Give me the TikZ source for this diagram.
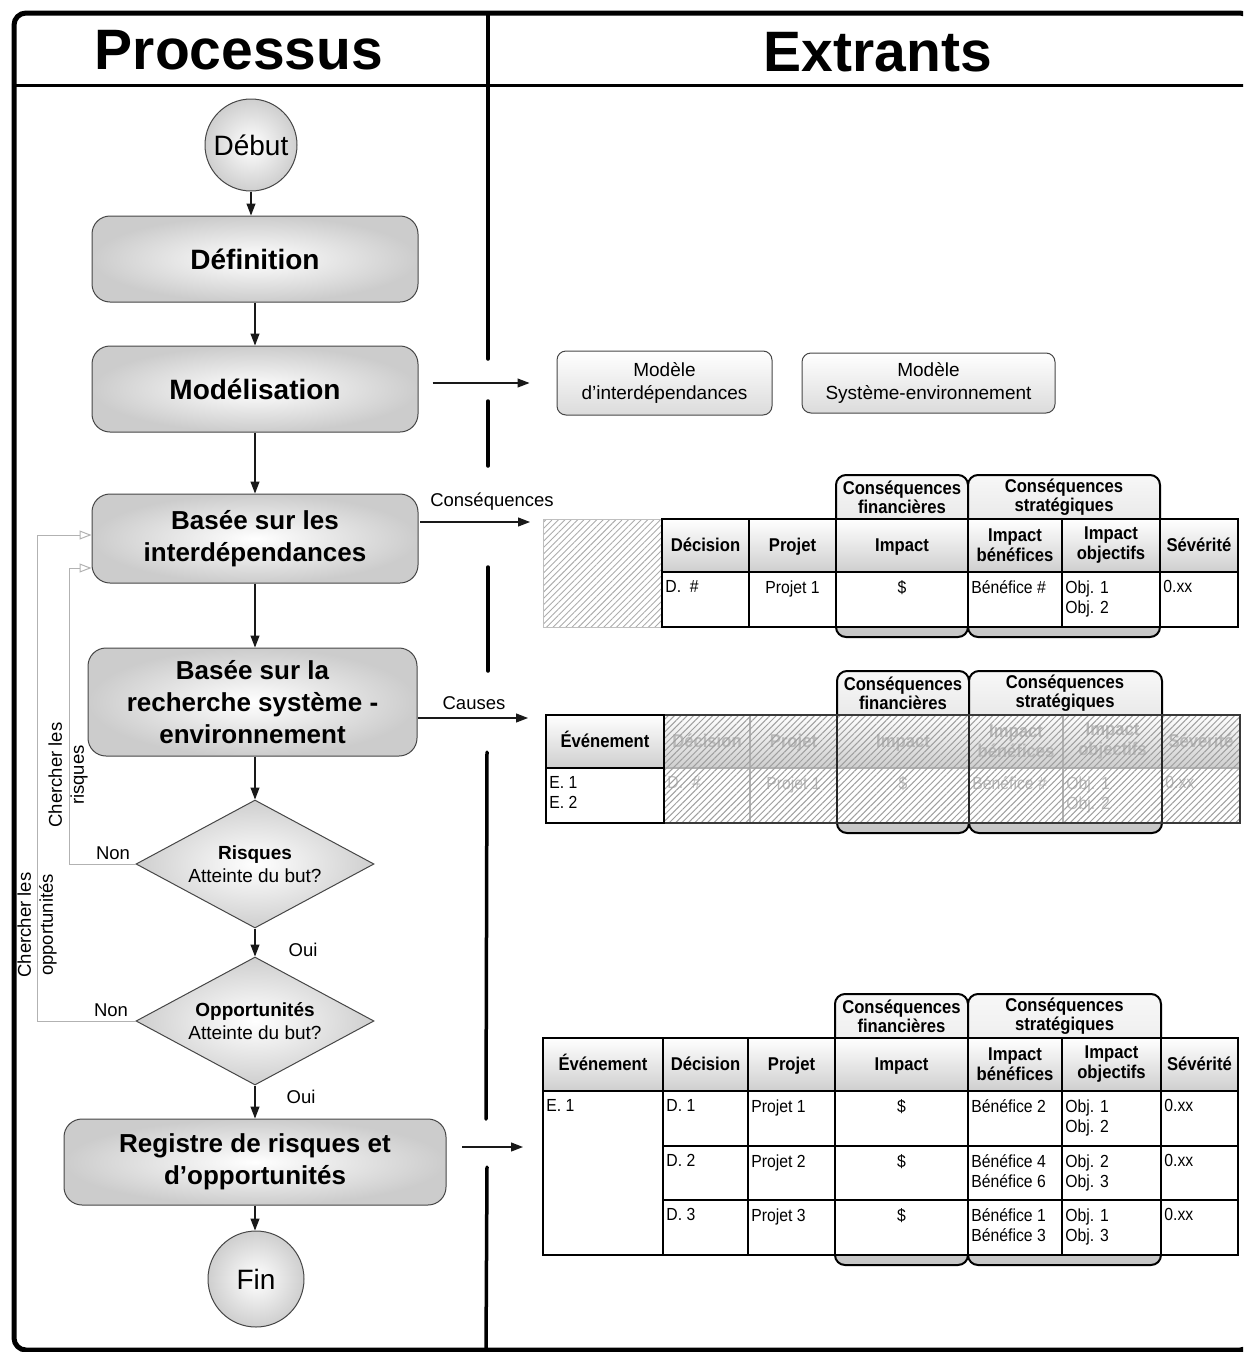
\documentclass[tikz,border=0pt]{standalone}
\usepackage{fontspec}
\setmainfont{Liberation Sans}
\newfontfamily\nfont[FakeStretch=0.9]{Liberation Sans}
\usetikzlibrary{arrows.meta,shapes.geometric,patterns.meta}
\newcommand\fTitle{\fontsize{57}{62}\selectfont\bfseries}
\newcommand\fBoxB{\fontsize{26}{32}\selectfont\bfseries}
\newcommand\fBoxC{\fontsize{28}{32}\selectfont\bfseries}
\newcommand\fCirc{\fontsize{28}{32}\selectfont}
\newcommand\fMid{\fontsize{19}{23}\selectfont}
\newcommand\fLab{\fontsize{18.5}{22}\selectfont}
\newcommand\fTH{\nfont\fontsize{18.5}{20}\selectfont\bfseries}
\newcommand\fTB{\nfont\fontsize{17.5}{20}\selectfont}
\newcommand\fTab{\nfont\fontsize{18.5}{19}\selectfont\bfseries}
\newcommand\HC[7][]{\node[hdr,#1,minimum width={#5-#3},minimum height={#6-#4}] (#2) at ({(#3+#5)/2},{(#4+#6)/2}) {#7};}
\newcommand\BC[6][]{\node[bdy,#1,minimum width={#5-#3},minimum height={#6-#4}] (#2) at ({(#3+#5)/2},{(#4+#6)/2}) {};}
\newcommand\TL[3][]{\node[tbl,#1] (#2-t) at ([xshift=4pt,yshift=-9pt]#2.north west) {#3};}
\newcommand\TC[3][]{\node[tbc,#1] (#2-t) at ([yshift=-9pt]#2.north) {#3};}
\newcommand\VP{\vphantom{Ég}}
\begin{document}
\begin{tikzpicture}[x=1pt,y=-1pt,
  proc/.style={draw=gray!55!black, line width=1pt, rounded corners=18pt, inner color=white, outer color=gray!40, font=\fBoxB, align=center, inner sep=0pt},
  circ/.style={circle, draw=gray!55!black, line width=1pt, inner color=white, outer color=gray!38, font=\fCirc, inner sep=0pt},
  dia/.style={diamond, aspect=1.86, draw=gray!55!black, line width=1pt, inner color=white, outer color=gray!38, inner sep=0pt, align=center, font=\fMid},
  model/.style={draw=gray!55!black, line width=1pt, rounded corners=9pt, top color=white, bottom color=gray!28, font=\fMid, align=center, inner sep=0pt},
  flow/.style={draw=gray!20!black, line width=1.1pt, -{Triangle[length=12pt,width=9pt]}},
  fb/.style={draw=gray!60, line width=1pt, -{Triangle[open,length=12pt,width=9pt]}},
  lab/.style={font=\fLab, inner sep=1pt},
  hdr/.style={draw=black, line width=1.5pt, top color=white, bottom color=gray!38, font=\fTH, align=center, inner sep=0pt},
  bdy/.style={draw=black, line width=1.5pt, fill=white, inner sep=0pt},
  hdrg/.style={hdr, draw=gray!60, text=gray!55},
  bdyg/.style={bdy, draw=gray!60},
  tbl/.style={font=\fTB, inner sep=0pt, anchor=north west, align=left},
  tbc/.style={font=\fTB, inner sep=0pt, anchor=north, align=center},
  tab/.style={draw=black, line width=2pt, rounded corners=10pt, top color=gray!6, bottom color=gray!45},
  tabt/.style={font=\fTab, align=center, inner sep=0pt},
  hatch/.style={pattern={Lines[angle=45,distance=4.5pt,line width=0.9pt]}, pattern color=gray!65},
  hatchd/.style={pattern={Lines[angle=45,distance=4.5pt,line width=1pt]}, pattern color=gray!75},
  divl/.style={line width=3.5pt, line cap=round}
]
\useasboundingbox (0,0) rectangle (1243,1352);
\clip (0,0) rectangle (1243,1352);
% frame
\draw[line width=5pt, rounded corners=12pt] (14,13) rectangle (1252,1350);
\draw[line width=3pt] (14,85) -- (1252,85);
\draw[divl] (488,13) -- (488,359);
\draw[divl] (488,401) -- (488,466);
\draw[divl] (488,567) -- (488,671);
\draw[divl] (487,752) -- (486,1119);
\draw[divl] (487,1167) -- (486,1352);
\node[font=\fTitle] (tP) at (239,50) {Processus};
\node[font=\fTitle] (tE) at (878,52) {Extrants};

% flowchart
\node[circ, minimum size=92pt] (debut) at (251,145) {Début};
\node[proc, minimum width=326pt, minimum height=86pt, font=\fBoxC] (def) at (255,259) {Définition};
\node[proc, minimum width=326pt, minimum height=86pt, font=\fBoxC] (mod) at (255,389) {Modélisation};
\node[proc, minimum width=326pt, minimum height=89pt] (b1) at (255,538.5) {Basée sur les\\interdépendances};
\node[proc, minimum width=329pt, minimum height=108pt] (b2) at (252.5,702) {Basée sur la\\recherche système -\\environnement};
\node[dia, minimum width=238pt, minimum height=128pt] (risk) at (255,864) {\textbf{Risques}\\Atteinte du but?};
\node[dia, minimum width=238pt, minimum height=128pt] (opp) at (255,1021) {\textbf{Opportunités}\\Atteinte du but?};
\node[proc, minimum width=382pt, minimum height=86pt] (reg) at (255,1162) {Registre de risques et\\d’opportunités};
\node[circ, minimum size=96pt] (fin) at (256,1279) {Fin};

\draw[flow] (debut.south) -- (debut.south |- def.north);
\draw[flow] (def.south) -- (mod.north);
\draw[flow] (mod.south) -- (b1.north);
\draw[flow] (b1.south) -- (b1.south |- b2.north);
\draw[flow] (risk.north |- b2.south) -- (risk.north);
\draw[flow] (risk.south) -- (opp.north);
\draw[flow] (opp.south) -- (opp.south |- reg.north);
\draw[flow] (reg.south) -- (reg.south |- fin.north);
\node[lab] (oui1) at (303,950) {Oui};
\node[lab] (oui2) at (301,1097) {Oui};

% feedback loops
\draw[fb] (risk.west) -- ++(-66,0) |- ([yshift=-29.5pt]b1.west);
\draw[fb] (opp.west) -- ++(-98,0) |- ([yshift=3.5pt]b1.west);
\node[lab] (non1) at (113,853) {Non};
\node[lab] (non2) at (111,1010) {Non};
\node[lab, rotate=90, align=center] (chr) at (68,775) {Chercher les\\risques};
\node[lab, rotate=90, align=center] (cho) at (37,925) {Chercher les\\opportunités};

% models
\node[model, minimum width=215pt, minimum height=64pt] (mi) at (664.5,383) {Modèle\\d’interdépendances};
\node[model, minimum width=253pt, minimum height=60pt] (ms) at (928.5,383) {Modèle\\Système-environnement};
\draw[flow] ([xshift=14pt]mod.east |- mi.west) -- ([xshift=-27pt]mi.west);

% arrows to tables
\coordinate (cq0) at (420,522);
\coordinate (cq1) at (530,522);
\draw[flow] (cq0) -- (cq1);
\node[lab] (lcq) at (492,502) {Conséquences};
\coordinate (ca0) at (418,718);
\coordinate (ca1) at (528,718);
\draw[flow] (ca0) -- (ca1);
\node[lab] (lca) at (474,703) {Causes};
\coordinate (rg0) at (462,1147);
\coordinate (rg1) at (523,1147);
\draw[flow] (rg0) -- (rg1);

% ---------------- Table 1
\draw[tab] (836,475) rectangle (968,637);
\draw[tab] (968,475) rectangle (1160,637);
\node[tabt] (t1f) at (902,497) {Conséquences\\financières};
\node[tabt] (t1s) at (1064,497) {Conséquences\\stratégiques};
\draw[draw=gray!50, line width=1pt, hatch] (543,519) rectangle (662,627);
\HC{t1h1}{662}{519}{749}{572}{\VP Décision}
\HC{t1h2}{749}{519}{836}{572}{\VP Projet}
\HC{t1h3}{836}{519}{968}{572}{\VP Impact}
\HC{t1h4}{968}{519}{1062}{572}{Impact\\bénéfices}
\HC{t1h5}{1062}{519}{1160}{572}{Impact\\objectifs}
\HC{t1h6}{1160}{519}{1238}{572}{\VP Sévérité}
\BC{t1b1}{662}{572}{749}{627}
\BC{t1b2}{749}{572}{836}{627}
\BC{t1b3}{836}{572}{968}{627}
\BC{t1b4}{968}{572}{1062}{627}
\BC{t1b5}{1062}{572}{1160}{627}
\BC{t1b6}{1160}{572}{1238}{627}
\TL{t1b1}{D.~~\#}
\TC{t1b2}{Projet 1}
\TC{t1b3}{\$}
\TL{t1b4}{Bénéfice \#}
\TL{t1b5}{Obj. 1\\Obj. 2}
\TL{t1b6}{0.xx}
\draw[line width=2pt] (662,519) rectangle (1238,627);

% ---------------- Table 2
\draw[tab] (837,671) rectangle (969,833);
\draw[tab] (969,671) rectangle (1162,833);
\node[tabt] (t2f) at (903,693) {Conséquences\\financières};
\node[tabt] (t2s) at (1065,693) {Conséquences\\stratégiques};
\HC{t2h0}{546}{715}{664}{768}{\VP Événement}
\HC[hdrg]{t2h1}{664}{715}{750}{768}{\VP Décision}
\HC[hdrg]{t2h2}{750}{715}{837}{768}{\VP Projet}
\HC[hdrg]{t2h3}{837}{715}{969}{768}{\VP Impact}
\HC[hdrg]{t2h4}{969}{715}{1063}{768}{Impact\\bénéfices}
\HC[hdrg]{t2h5}{1063}{715}{1162}{768}{Impact\\objectifs}
\HC[hdrg]{t2h6}{1162}{715}{1240}{768}{\VP Sévérité}
\BC{t2b0}{546}{768}{664}{823}
\BC[bdyg]{t2b1}{664}{768}{750}{823}
\BC[bdyg]{t2b2}{750}{768}{837}{823}
\BC[bdyg]{t2b3}{837}{768}{969}{823}
\BC[bdyg]{t2b4}{969}{768}{1063}{823}
\BC[bdyg]{t2b5}{1063}{768}{1162}{823}
\BC[bdyg]{t2b6}{1162}{768}{1240}{823}
\TL{t2b0}{E. 1\\E. 2}
\TL[text=gray!55]{t2b1}{D.~~\#}
\TC[text=gray!55]{t2b2}{Projet 1}
\TC[text=gray!55]{t2b3}{\$}
\TL[text=gray!55]{t2b4}{Bénéfice \#}
\TL[text=gray!55]{t2b5}{Obj. 1\\Obj. 2}
\TL[text=gray!55]{t2b6}{0.xx}
\fill[hatchd] (664,715) rectangle (1240,823);
\draw[line width=2pt, gray!30!black] (837,715) -- (837,823) (969,715) -- (969,823) (1162,715) -- (1162,823);
\draw[line width=2pt, gray!45!black] (664,715) rectangle (1240,823);
\draw[line width=2pt] (546,715) rectangle (664,823) (546,768) -- (664,768);

% ---------------- Table 3
\draw[tab] (835,994) rectangle (968,1265);
\draw[tab] (968,994) rectangle (1161,1265);
\node[tabt] (t3f) at (901.5,1016) {Conséquences\\financières};
\node[tabt] (t3s) at (1064.5,1016) {Conséquences\\stratégiques};
\HC{t3h0}{543}{1038}{663}{1091}{\VP Événement}
\HC{t3h1}{663}{1038}{748}{1091}{\VP Décision}
\HC{t3h2}{748}{1038}{835}{1091}{\VP Projet}
\HC{t3h3}{835}{1038}{968}{1091}{\VP Impact}
\HC{t3h4}{968}{1038}{1062}{1091}{Impact\\bénéfices}
\HC{t3h5}{1062}{1038}{1161}{1091}{Impact\\objectifs}
\HC{t3h6}{1161}{1038}{1238}{1091}{\VP Sévérité}
\BC{t3e}{543}{1091}{663}{1255}
\TL{t3e}{E. 1}
% row 1
\BC{t3a1}{663}{1091}{748}{1146}
\BC{t3a2}{748}{1091}{835}{1146}
\BC{t3a3}{835}{1091}{968}{1146}
\BC{t3a4}{968}{1091}{1062}{1146}
\BC{t3a5}{1062}{1091}{1161}{1146}
\BC{t3a6}{1161}{1091}{1238}{1146}
\TL{t3a1}{D. 1}
\TL{t3a2}{Projet 1}
\TC{t3a3}{\$}
\TL{t3a4}{Bénéfice 2}
\TL{t3a5}{Obj. 1\\Obj. 2}
\TL{t3a6}{0.xx}
% row 2
\BC{t3b1}{663}{1146}{748}{1200}
\BC{t3b2}{748}{1146}{835}{1200}
\BC{t3b3}{835}{1146}{968}{1200}
\BC{t3b4}{968}{1146}{1062}{1200}
\BC{t3b5}{1062}{1146}{1161}{1200}
\BC{t3b6}{1161}{1146}{1238}{1200}
\TL{t3b1}{D. 2}
\TL{t3b2}{Projet 2}
\TC{t3b3}{\$}
\TL{t3b4}{Bénéfice 4\\Bénéfice 6}
\TL{t3b5}{Obj. 2\\Obj. 3}
\TL{t3b6}{0.xx}
% row 3
\BC{t3c1}{663}{1200}{748}{1255}
\BC{t3c2}{748}{1200}{835}{1255}
\BC{t3c3}{835}{1200}{968}{1255}
\BC{t3c4}{968}{1200}{1062}{1255}
\BC{t3c5}{1062}{1200}{1161}{1255}
\BC{t3c6}{1161}{1200}{1238}{1255}
\TL{t3c1}{D. 3}
\TL{t3c2}{Projet 3}
\TC{t3c3}{\$}
\TL{t3c4}{Bénéfice 1\\Bénéfice 3}
\TL{t3c5}{Obj. 1\\Obj. 3}
\TL{t3c6}{0.xx}
\draw[line width=2pt] (543,1038) rectangle (1238,1255);
\end{tikzpicture}
\end{document}
